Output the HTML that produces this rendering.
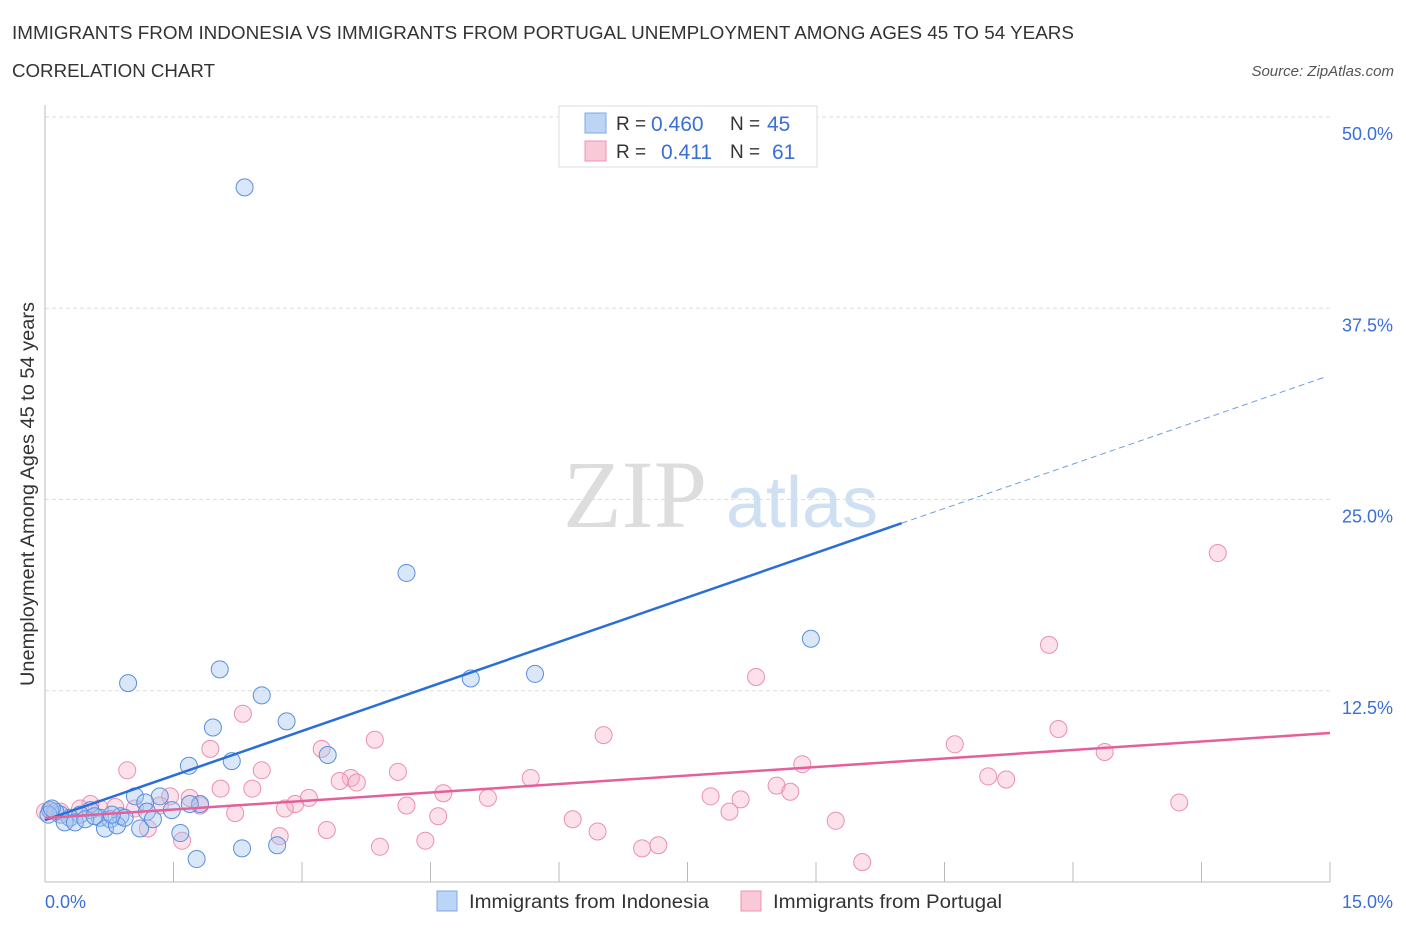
<!DOCTYPE html>
<html><head><meta charset="utf-8"><style>
body{margin:0;background:#fff;font-family:"Liberation Sans",sans-serif;}
svg text{font-family:"Liberation Sans",sans-serif;}
svg text.serif{font-family:"Liberation Serif",serif;}
</style></head><body>
<svg id="c" width="1406" height="930" xmlns="http://www.w3.org/2000/svg">
<text x="12" y="39" font-size="18" fill="#333" textLength="1062" lengthAdjust="spacingAndGlyphs">IMMIGRANTS FROM INDONESIA VS IMMIGRANTS FROM PORTUGAL UNEMPLOYMENT AMONG AGES 45 TO 54 YEARS</text>
<text x="12" y="77" font-size="18" fill="#333" textLength="203" lengthAdjust="spacingAndGlyphs">CORRELATION CHART</text>
<text x="1394" y="76" font-size="15" fill="#555" font-style="italic" text-anchor="end">Source: ZipAtlas.com</text>
<text class="serif" x="635" y="527" font-size="96" fill="#ddd" text-anchor="middle">ZIP</text>
<text x="802" y="527" font-size="72" fill="#cfe0f3" text-anchor="middle">atlas</text>
<g id="grid"></g>
<g id="marks"></g>
<text transform="translate(34,494) rotate(-90)" font-size="19" fill="#333" text-anchor="middle" textLength="384" lengthAdjust="spacingAndGlyphs">Unemployment Among Ages 45 to 54 years</text>
<text x="45" y="908" font-size="18" fill="#3a6fd6">0.0%</text>
<text x="1393" y="908" font-size="18" fill="#3a6fd6" text-anchor="end">15.0%</text>
<g>
<rect x="559" y="106" width="258" height="61" fill="#fff" stroke="#ddd"/>
<rect x="585" y="113" width="21" height="20" fill="#bcd4f6" stroke="#7fa8e6"/>
<rect x="585" y="141" width="21" height="20" fill="#f9c9d8" stroke="#ec94b2"/>
<text x="616" y="130" font-size="19" fill="#333">R =</text><text x="651" y="131" font-size="21" fill="#3a6fd6">0.460</text>
<text x="730" y="130" font-size="19" fill="#333">N =</text><text x="767" y="131" font-size="21" fill="#3a6fd6">45</text>
<text x="616" y="158" font-size="19" fill="#333">R =</text><text x="661" y="159" font-size="21" fill="#3a6fd6">0.411</text>
<text x="730" y="158" font-size="19" fill="#333">N =</text><text x="772" y="159" font-size="21" fill="#3a6fd6">61</text>
</g>
<g>
<rect x="437" y="891" width="20" height="20" fill="#bcd4f6" stroke="#7fa8e6"/>
<text x="469" y="908" font-size="19" fill="#333" textLength="240" lengthAdjust="spacingAndGlyphs">Immigrants from Indonesia</text>
<rect x="741" y="891" width="20" height="20" fill="#f9c9d8" stroke="#ec94b2"/>
<text x="773" y="908" font-size="19" fill="#333" textLength="229" lengthAdjust="spacingAndGlyphs">Immigrants from Portugal</text>
</g>
</svg>
<script>
const yTicks=[12.5,25,37.5,50];
const yTickLabels=["12.5%","25.0%","37.5%","50.0%"];
const xTicks=[0,1.5,3,4.5,6,7.5,9,10.5,12,13.5,15];
const indoX=[2.33,4.22,8.94,5.72,4.97,0.97,2.04,2.53,1.96,2.82,1.68,2.18,3.30,1.05,1.34,1.17,1.48,1.81,1.69,1.19,1.26,0.88,0.64,0.53,0.41,0.29,0.18,0.12,0.06,0.04,0.23,0.35,0.47,0.76,0.70,0.84,1.11,1.58,1.77,2.30,2.71,0.58,0.93,0.78,0.08];
const indoY=[45.4,20.2,15.9,13.6,13.3,13.0,13.9,12.2,10.1,10.5,7.6,7.9,8.3,5.6,5.6,5.2,4.7,5.1,5.1,4.6,4.1,4.3,4.2,4.7,4.4,4.2,4.4,4.6,4.7,4.4,3.9,3.9,4.1,4.1,3.5,3.7,3.5,3.2,1.5,2.2,2.4,4.3,4.2,4.4,4.8];
const portX=[13.69,11.72,8.30,2.31,11.83,6.52,3.85,10.62,12.37,1.93,0.96,2.53,4.12,3.23,3.57,3.44,3.64,5.67,11.01,11.22,8.84,8.54,8.70,7.77,8.12,7.99,5.17,4.65,4.22,13.24,2.92,2.80,3.08,2.05,2.42,1.69,1.46,1.81,2.22,1.34,1.05,0.82,0.64,0.53,0.41,0.18,0.06,0.0,1.20,1.60,2.74,3.29,3.91,4.44,6.16,6.45,6.97,7.16,9.23,9.54,4.59];
const portY=[21.5,15.5,13.4,11.0,10.0,9.6,9.3,9.0,8.5,8.7,7.3,7.3,7.2,8.7,6.8,6.6,6.5,6.8,6.9,6.7,7.7,6.3,5.9,5.6,5.4,4.6,5.5,5.8,5.0,5.2,5.1,4.8,5.5,6.1,6.1,5.5,5.6,5.0,4.5,5.0,4.8,4.9,4.8,5.1,4.8,4.6,4.7,4.6,3.5,2.7,3.0,3.4,2.3,2.7,4.1,3.3,2.2,2.4,4.0,1.3,4.3];
const blueFit=[0,4.05,10.0,23.45,14.94,33.0];
const pinkFit=[0,4.18,15,9.74];
const X=v=>45+v*(1285/15), Y=v=>882-v*15.3;
const NS="http://www.w3.org/2000/svg";
function mk(t,a,p){const e=document.createElementNS(NS,t);for(const k in a)e.setAttribute(k,a[k]);p.appendChild(e);return e;}
const g=document.getElementById('grid'),m=document.getElementById('marks');
yTicks.forEach((t,i)=>{
 const l=mk('line',{x1:45,x2:1330,y1:Y(t),y2:Y(t),stroke:'#ddd','stroke-dasharray':'4,3'},g);
 
 
 const tx=mk('text',{x:1393,y:Y(t)+23,'font-size':18,fill:'#3a6fd6','text-anchor':'end'},g);
 tx.textContent=yTickLabels[i];
 
 
});
const ax=mk('line',{x1:45,x2:45,y1:105,y2:882,stroke:'#bbb'},g);


const bx=mk('line',{x1:45,x2:1330,y1:882,y2:882,stroke:'#bbb'},g);


xTicks.forEach(t=>{const l=mk('line',{x1:X(t),x2:X(t),y1:862,y2:882,stroke:'#bbb'},g);
 
 });
portX.forEach((v,i)=>{const c=mk('circle',{cx:X(v),cy:Y(portY[i]),r:8.5,fill:'rgba(246,170,195,0.35)',stroke:'#eb8fb0','stroke-width':1},m);
 
 });
indoX.forEach((v,i)=>{const c=mk('circle',{cx:X(v),cy:Y(indoY[i]),r:8.5,fill:'rgba(160,195,240,0.4)',stroke:'#5b8fdc','stroke-width':1},m);
 
 });
const b1=mk('line',{x1:X(blueFit[0]),y1:Y(blueFit[1]),x2:X(blueFit[2]),y2:Y(blueFit[3]),stroke:'#2a6fd8','stroke-width':2.5},m);


const b2=mk('line',{x1:X(blueFit[2]),y1:Y(blueFit[3]),x2:X(blueFit[4]),y2:Y(blueFit[5]),stroke:'#6f9ee0','stroke-width':1,'stroke-dasharray':'6,4'},m);


const p1=mk('line',{x1:X(pinkFit[0]),y1:Y(pinkFit[1]),x2:X(pinkFit[2]),y2:Y(pinkFit[3]),stroke:'#e5609a','stroke-width':2.5},m);


</script>
</body></html>
